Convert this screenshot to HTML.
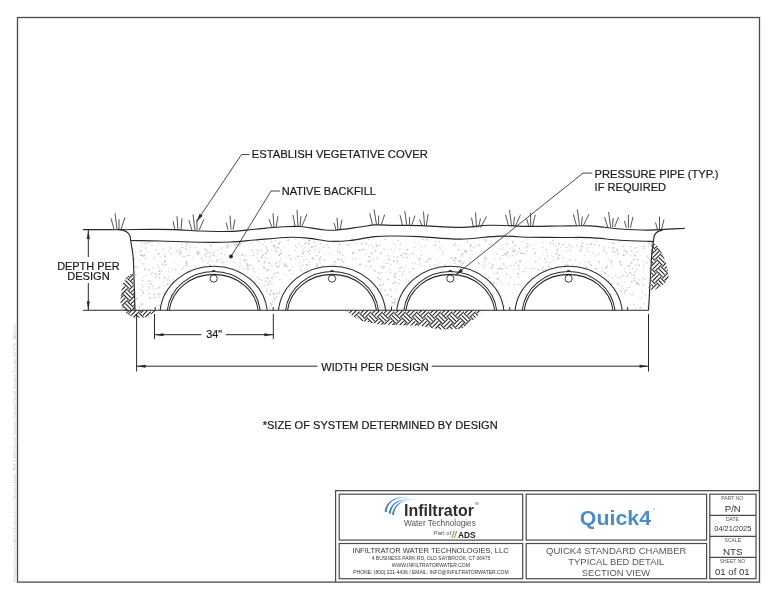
<!DOCTYPE html>
<html><head><meta charset="utf-8"><style>
html,body{margin:0;padding:0;background:#fff;}
svg{display:block;will-change:transform;}
text{font-family:"Liberation Sans",sans-serif;}
</style></head><body>
<svg width="777" height="600" viewBox="0 0 777 600">
<defs>
<clipPath id="hcl"><path d="M132.8 272.3 L127 277 L123.5 282.5 L121 293 L120.5 303.2 L122.8 309 L127 313.5 L133.3 317.4 L145 317.4 L150 315 L155.8 311.4 L155.8 310.3 L135 310.3 Z M345.3 310.3 L352 315.5 L360 320.4 L380 324.6 L420 325.8 L440 329.6 L462 328.8 L472 321 L483.3 310.3 Z M653.2 242.5 L658.7 247.3 L663.3 256 L666 263.3 L668.9 275.3 L667.3 281 L662 285.5 L656.7 288.7 L651.3 291.6 L651.5 243 Z"/></clipPath>
</defs>
<rect x="17.5" y="17.5" width="742" height="564.6" fill="none" stroke="#4a4a4a" stroke-width="1.3"/>
<text transform="translate(16.2,582) rotate(-90)" font-size="3.4" fill="#c2c2c2" textLength="258" lengthAdjust="spacingAndGlyphs">U:\Market Development Archive\Drawings for the Infiltrator website - PDF &amp; DWG\Quick4 Standard Chambers\Quick4 Standard Chamber Vol. STD - BED.dwg</text>
<!-- hatch regions -->
<path d="M111.62 260.92L105.82 266.72M113.79 263.10L107.99 268.90M115.97 265.27L110.17 271.07M123.21 260.92L117.42 266.72M125.39 263.10L119.59 268.90M127.56 265.27L121.76 271.07M115.97 266.72L121.76 272.52M113.79 268.90L119.59 274.69M111.62 271.07L117.42 276.87M111.62 272.52L105.82 278.32M113.79 274.69L107.99 280.49M115.97 276.87L110.17 282.67M134.81 260.92L129.01 266.72M136.98 263.10L131.19 268.90M139.16 265.27L133.36 271.07M127.56 266.72L133.36 272.52M125.39 268.90L131.19 274.69M123.21 271.07L129.01 276.87M123.21 272.52L117.42 278.32M125.39 274.69L119.59 280.49M127.56 276.87L121.76 282.67M115.97 278.32L121.76 284.12M113.79 280.49L119.59 286.29M111.62 282.67L117.42 288.46M111.62 284.12L105.82 289.91M113.79 286.29L107.99 292.09M115.97 288.46L110.17 294.26M139.16 266.72L144.96 272.52M136.98 268.90L142.78 274.69M134.81 271.07L140.61 276.87M134.81 272.52L129.01 278.32M136.98 274.69L131.19 280.49M139.16 276.87L133.36 282.67M127.56 278.32L133.36 284.12M125.39 280.49L131.19 286.29M123.21 282.67L129.01 288.46M123.21 284.12L117.42 289.91M125.39 286.29L119.59 292.09M127.56 288.46L121.76 294.26M115.97 289.91L121.76 295.71M113.79 292.09L119.59 297.89M111.62 294.26L117.42 300.06M111.62 295.71L105.82 301.51M113.79 297.89L107.99 303.68M115.97 300.06L110.17 305.86M139.16 278.32L144.96 284.12M136.98 280.49L142.78 286.29M134.81 282.67L140.61 288.46M134.81 284.12L129.01 289.91M136.98 286.29L131.19 292.09M139.16 288.46L133.36 294.26M127.56 289.91L133.36 295.71M125.39 292.09L131.19 297.89M123.21 294.26L129.01 300.06M123.21 295.71L117.42 301.51M125.39 297.89L119.59 303.68M127.56 300.06L121.76 305.86M115.97 301.51L121.76 307.31M113.79 303.68L119.59 309.48M111.62 305.86L117.42 311.66M111.62 307.31L105.82 313.11M113.79 309.48L107.99 315.28M115.97 311.66L110.17 317.46M139.16 289.91L144.96 295.71M136.98 292.09L142.78 297.89M134.81 294.26L140.61 300.06M134.81 295.71L129.01 301.51M136.98 297.89L131.19 303.68M139.16 300.06L133.36 305.86M127.56 301.51L133.36 307.31M125.39 303.68L131.19 309.48M123.21 305.86L129.01 311.66M123.21 307.31L117.42 313.11M125.39 309.48L119.59 315.28M127.56 311.66L121.76 317.46M115.97 313.11L121.76 318.91M113.79 315.28L119.59 321.08M111.62 317.46L117.42 323.25M111.62 318.91L105.82 324.70M113.79 321.08L107.99 326.88M115.97 323.25L110.17 329.05M139.16 301.51L144.96 307.31M136.98 303.68L142.78 309.48M134.81 305.86L140.61 311.66M134.81 307.31L129.01 313.11M136.98 309.48L131.19 315.28M139.16 311.66L133.36 317.46M127.56 313.11L133.36 318.91M125.39 315.28L131.19 321.08M123.21 317.46L129.01 323.25M123.21 318.91L117.42 324.70M125.39 321.08L119.59 326.88M127.56 323.25L121.76 329.05M146.41 307.31L140.61 313.11M148.58 309.48L142.78 315.28M150.76 311.66L144.96 317.46M139.16 313.11L144.96 318.91M136.98 315.28L142.78 321.08M134.81 317.46L140.61 323.25M134.81 318.91L129.01 324.70M136.98 321.08L131.19 326.88M139.16 323.25L133.36 329.05M158.00 307.31L152.20 313.11M160.18 309.48L154.38 315.28M162.35 311.66L156.55 317.46M150.76 313.11L156.55 318.91M148.58 315.28L154.38 321.08M146.41 317.46L152.20 323.25M146.41 318.91L140.61 324.70M148.58 321.08L142.78 326.88M150.76 323.25L144.96 329.05M158.00 318.91L152.20 324.70M160.18 321.08L154.38 326.88M162.35 323.25L156.55 329.05M343.55 307.31L337.75 313.11M345.72 309.48L339.92 315.28M347.90 311.66L342.10 317.46M355.14 307.31L349.35 313.11M357.32 309.48L351.52 315.28M359.49 311.66L353.69 317.46M347.90 313.11L353.69 318.91M345.72 315.28L351.52 321.08M343.55 317.46L349.35 323.25M343.55 318.91L337.75 324.70M345.72 321.08L339.92 326.88M347.90 323.25L342.10 329.05M366.74 307.31L360.94 313.11M368.92 309.48L363.12 315.28M371.09 311.66L365.29 317.46M359.49 313.11L365.29 318.91M357.32 315.28L363.12 321.08M355.14 317.46L360.94 323.25M355.14 318.91L349.35 324.70M357.32 321.08L351.52 326.88M359.49 323.25L353.69 329.05M347.90 324.70L353.69 330.50M345.72 326.88L351.52 332.68M343.55 329.05L349.35 334.85M378.34 307.31L372.54 313.11M380.51 309.48L374.71 315.28M382.69 311.66L376.89 317.46M371.09 313.11L376.89 318.91M368.92 315.28L374.71 321.08M366.74 317.46L372.54 323.25M366.74 318.91L360.94 324.70M368.92 321.08L363.12 326.88M371.09 323.25L365.29 329.05M359.49 324.70L365.29 330.50M357.32 326.88L363.12 332.68M355.14 329.05L360.94 334.85M389.93 307.31L384.14 313.11M392.11 309.48L386.31 315.28M394.28 311.66L388.48 317.46M382.69 313.11L388.48 318.91M380.51 315.28L386.31 321.08M378.34 317.46L384.14 323.25M378.34 318.91L372.54 324.70M380.51 321.08L374.71 326.88M382.69 323.25L376.89 329.05M371.09 324.70L376.89 330.50M368.92 326.88L374.71 332.68M366.74 329.05L372.54 334.85M401.53 307.31L395.73 313.11M403.70 309.48L397.91 315.28M405.88 311.66L400.08 317.46M394.28 313.11L400.08 318.91M392.11 315.28L397.91 321.08M389.93 317.46L395.73 323.25M389.93 318.91L384.14 324.70M392.11 321.08L386.31 326.88M394.28 323.25L388.48 329.05M382.69 324.70L388.48 330.50M380.51 326.88L386.31 332.68M378.34 329.05L384.14 334.85M413.13 307.31L407.33 313.11M415.30 309.48L409.50 315.28M417.48 311.66L411.68 317.46M405.88 313.11L411.68 318.91M403.70 315.28L409.50 321.08M401.53 317.46L407.33 323.25M401.53 318.91L395.73 324.70M403.70 321.08L397.91 326.88M405.88 323.25L400.08 329.05M394.28 324.70L400.08 330.50M392.11 326.88L397.91 332.68M389.93 329.05L395.73 334.85M424.72 307.31L418.93 313.11M426.90 309.48L421.10 315.28M429.07 311.66L423.27 317.46M417.48 313.11L423.27 318.91M415.30 315.28L421.10 321.08M413.13 317.46L418.93 323.25M413.13 318.91L407.33 324.70M415.30 321.08L409.50 326.88M417.48 323.25L411.68 329.05M405.88 324.70L411.68 330.50M403.70 326.88L409.50 332.68M401.53 329.05L407.33 334.85M436.32 307.31L430.52 313.11M438.49 309.48L432.70 315.28M440.67 311.66L434.87 317.46M429.07 313.11L434.87 318.91M426.90 315.28L432.70 321.08M424.72 317.46L430.52 323.25M424.72 318.91L418.93 324.70M426.90 321.08L421.10 326.88M429.07 323.25L423.27 329.05M417.48 324.70L423.27 330.50M415.30 326.88L421.10 332.68M413.13 329.05L418.93 334.85M447.92 307.31L442.12 313.11M450.09 309.48L444.29 315.28M452.27 311.66L446.47 317.46M440.67 313.11L446.47 318.91M438.49 315.28L444.29 321.08M436.32 317.46L442.12 323.25M436.32 318.91L430.52 324.70M438.49 321.08L432.70 326.88M440.67 323.25L434.87 329.05M429.07 324.70L434.87 330.50M426.90 326.88L432.70 332.68M424.72 329.05L430.52 334.85M459.51 307.31L453.72 313.11M461.69 309.48L455.89 315.28M463.86 311.66L458.06 317.46M452.27 313.11L458.06 318.91M450.09 315.28L455.89 321.08M447.92 317.46L453.72 323.25M447.92 318.91L442.12 324.70M450.09 321.08L444.29 326.88M452.27 323.25L446.47 329.05M440.67 324.70L446.47 330.50M438.49 326.88L444.29 332.68M436.32 329.05L442.12 334.85M471.11 307.31L465.31 313.11M473.28 309.48L467.49 315.28M475.46 311.66L469.66 317.46M463.86 313.11L469.66 318.91M461.69 315.28L467.49 321.08M459.51 317.46L465.31 323.25M459.51 318.91L453.72 324.70M461.69 321.08L455.89 326.88M463.86 323.25L458.06 329.05M452.27 324.70L458.06 330.50M450.09 326.88L455.89 332.68M447.92 329.05L453.72 334.85M482.71 307.31L476.91 313.11M484.88 309.48L479.08 315.28M487.06 311.66L481.26 317.46M475.46 313.11L481.26 318.91M473.28 315.28L479.08 321.08M471.11 317.46L476.91 323.25M471.11 318.91L465.31 324.70M473.28 321.08L467.49 326.88M475.46 323.25L469.66 329.05M463.86 324.70L469.66 330.50M461.69 326.88L467.49 332.68M459.51 329.05L465.31 334.85M487.06 313.11L492.85 318.91M484.88 315.28L490.68 321.08M482.71 317.46L488.50 323.25M482.71 318.91L476.91 324.70M484.88 321.08L479.08 326.88M487.06 323.25L481.26 329.05M475.46 324.70L481.26 330.50M473.28 326.88L479.08 332.68M471.11 329.05L476.91 334.85M487.06 324.70L492.85 330.50M484.88 326.88L490.68 332.68M482.71 329.05L488.50 334.85M656.65 237.73L650.86 243.53M658.83 239.90L653.03 245.70M661.00 242.08L655.21 247.88M649.41 243.53L655.21 249.33M647.23 245.70L653.03 251.50M645.06 247.88L650.86 253.67M668.25 237.73L662.45 243.53M670.43 239.90L664.63 245.70M672.60 242.08L666.80 247.88M661.00 243.53L666.80 249.33M658.83 245.70L664.63 251.50M656.65 247.88L662.45 253.67M656.65 249.33L650.86 255.12M658.83 251.50L653.03 257.30M661.00 253.67L655.21 259.47M649.41 255.12L655.21 260.92M647.23 257.30L653.03 263.10M645.06 259.47L650.86 265.27M672.60 243.53L678.40 249.33M670.43 245.70L676.22 251.50M668.25 247.88L674.05 253.67M668.25 249.33L662.45 255.12M670.43 251.50L664.63 257.30M672.60 253.67L666.80 259.47M661.00 255.12L666.80 260.92M658.83 257.30L664.63 263.10M656.65 259.47L662.45 265.27M656.65 260.92L650.86 266.72M658.83 263.10L653.03 268.90M661.00 265.27L655.21 271.07M649.41 266.72L655.21 272.52M647.23 268.90L653.03 274.69M645.06 271.07L650.86 276.87M672.60 255.12L678.40 260.92M670.43 257.30L676.22 263.10M668.25 259.47L674.05 265.27M668.25 260.92L662.45 266.72M670.43 263.10L664.63 268.90M672.60 265.27L666.80 271.07M661.00 266.72L666.80 272.52M658.83 268.90L664.63 274.69M656.65 271.07L662.45 276.87M656.65 272.52L650.86 278.32M658.83 274.69L653.03 280.49M661.00 276.87L655.21 282.67M649.41 278.32L655.21 284.12M647.23 280.49L653.03 286.29M645.06 282.67L650.86 288.46M672.60 266.72L678.40 272.52M670.43 268.90L676.22 274.69M668.25 271.07L674.05 276.87M668.25 272.52L662.45 278.32M670.43 274.69L664.63 280.49M672.60 276.87L666.80 282.67M661.00 278.32L666.80 284.12M658.83 280.49L664.63 286.29M656.65 282.67L662.45 288.46M656.65 284.12L650.86 289.91M658.83 286.29L653.03 292.09M661.00 288.46L655.21 294.26M649.41 289.91L655.21 295.71M647.23 292.09L653.03 297.89M645.06 294.26L650.86 300.06M672.60 278.32L678.40 284.12M670.43 280.49L676.22 286.29M668.25 282.67L674.05 288.46M668.25 284.12L662.45 289.91M670.43 286.29L664.63 292.09M672.60 288.46L666.80 294.26M661.00 289.91L666.80 295.71M658.83 292.09L664.63 297.89M656.65 294.26L662.45 300.06M672.60 289.91L678.40 295.71M670.43 292.09L676.22 297.89M668.25 294.26L674.05 300.06" fill="none" stroke="#262626" stroke-width="1.1" clip-path="url(#hcl)"/>
<!-- stipple -->
<filter id="bl" x="-5%" y="-5%" width="110%" height="110%"><feGaussianBlur stdDeviation="0.45"/></filter><g filter="url(#bl)"><path d="M301.4 246.3h0.9v0.9h-0.9z M411.7 262.4h1.2v1.2h-1.2z M152.5 267.5h0.9v0.9h-0.9z M197.4 251.7h1.6v1.6h-1.6z M283.6 245.8h1.0v1.0h-1.0z M557.4 248.6h1.3v1.3h-1.3z M355.3 258.6h1.2v1.2h-1.2z M496.5 253.3h1.2v1.2h-1.2z M624.2 270.6h0.8v0.8h-0.8z M144.7 269.6h0.9v0.9h-0.9z M163.7 292.6h1.0v1.0h-1.0z M174.9 268.7h1.5v1.5h-1.5z M277.8 266.1h1.5v1.5h-1.5z M631.0 246.3h1.0v1.0h-1.0z M254.3 271.4h1.0v1.0h-1.0z M135.1 266.4h1.3v1.3h-1.3z M628.6 286.8h1.3v1.3h-1.3z M547.9 264.4h0.9v0.9h-0.9z M168.0 250.7h1.1v1.1h-1.1z M210.2 253.9h1.1v1.1h-1.1z M649.4 269.9h0.9v0.9h-0.9z M186.1 260.7h1.5v1.5h-1.5z M627.5 274.6h1.2v1.2h-1.2z M268.8 262.5h1.4v1.4h-1.4z M517.7 252.0h1.1v1.1h-1.1z M278.3 254.4h1.6v1.6h-1.6z M646.8 306.6h1.0v1.0h-1.0z M251.0 249.8h1.3v1.3h-1.3z M523.1 270.9h1.4v1.4h-1.4z M638.3 264.7h1.6v1.6h-1.6z M509.9 247.8h0.9v0.9h-0.9z M642.8 284.3h1.2v1.2h-1.2z M637.9 283.7h1.5v1.5h-1.5z M562.6 250.8h1.0v1.0h-1.0z M258.1 279.0h1.1v1.1h-1.1z M393.9 274.9h0.8v0.8h-0.8z M361.9 248.7h1.4v1.4h-1.4z M510.1 276.7h1.2v1.2h-1.2z M395.9 273.4h1.2v1.2h-1.2z M622.9 254.5h1.6v1.6h-1.6z M569.8 245.3h1.2v1.2h-1.2z M170.7 253.0h1.3v1.3h-1.3z M628.3 264.9h1.6v1.6h-1.6z M565.9 247.1h1.2v1.2h-1.2z M309.3 249.7h1.4v1.4h-1.4z M143.1 276.6h0.8v0.8h-0.8z M187.5 254.9h1.4v1.4h-1.4z M273.6 244.7h1.5v1.5h-1.5z M558.9 254.4h1.5v1.5h-1.5z M490.9 266.9h1.6v1.6h-1.6z M369.0 260.4h1.5v1.5h-1.5z M272.3 244.7h1.0v1.0h-1.0z M189.9 247.1h1.0v1.0h-1.0z M225.5 261.0h1.0v1.0h-1.0z M141.0 290.0h1.0v1.0h-1.0z M567.0 264.5h1.4v1.4h-1.4z M343.4 261.1h0.9v0.9h-0.9z M265.9 247.2h1.5v1.5h-1.5z M279.6 253.2h1.2v1.2h-1.2z M635.1 258.2h0.8v0.8h-0.8z M394.4 250.1h0.8v0.8h-0.8z M270.4 241.7h0.8v0.8h-0.8z M144.7 257.8h1.3v1.3h-1.3z M590.1 264.2h1.6v1.6h-1.6z M555.4 245.4h1.2v1.2h-1.2z M493.5 252.2h0.9v0.9h-0.9z M394.5 275.1h0.9v0.9h-0.9z M516.1 253.9h1.0v1.0h-1.0z M512.3 250.4h1.6v1.6h-1.6z M389.9 263.7h1.3v1.3h-1.3z M467.2 240.8h1.0v1.0h-1.0z M519.5 257.8h0.8v0.8h-0.8z M164.5 255.2h1.4v1.4h-1.4z M484.4 256.8h1.2v1.2h-1.2z M636.4 268.7h1.0v1.0h-1.0z M624.7 250.8h0.9v0.9h-0.9z M397.5 301.5h1.0v1.0h-1.0z M599.8 271.5h0.8v0.8h-0.8z M388.7 268.8h0.9v0.9h-0.9z M283.7 262.9h1.6v1.6h-1.6z M439.4 262.1h1.0v1.0h-1.0z M262.6 254.9h1.0v1.0h-1.0z M622.2 276.2h0.8v0.8h-0.8z M158.5 304.5h1.2v1.2h-1.2z M311.7 257.3h1.6v1.6h-1.6z M268.3 284.2h1.2v1.2h-1.2z M338.1 247.5h1.0v1.0h-1.0z M604.1 272.3h1.5v1.5h-1.5z M205.6 249.4h1.1v1.1h-1.1z M180.4 252.9h1.3v1.3h-1.3z M347.6 266.0h1.1v1.1h-1.1z M308.9 239.7h1.6v1.6h-1.6z M245.3 255.3h1.1v1.1h-1.1z M379.1 279.0h1.1v1.1h-1.1z M262.2 243.2h1.2v1.2h-1.2z M153.6 293.7h1.5v1.5h-1.5z M468.7 257.8h1.0v1.0h-1.0z M405.7 278.7h1.0v1.0h-1.0z M380.2 252.6h1.6v1.6h-1.6z M499.4 258.1h1.2v1.2h-1.2z M483.7 266.5h1.3v1.3h-1.3z M614.1 252.0h1.1v1.1h-1.1z M517.3 272.9h1.6v1.6h-1.6z M390.8 249.0h1.1v1.1h-1.1z M209.1 264.5h1.6v1.6h-1.6z M478.5 263.4h1.1v1.1h-1.1z M158.6 270.5h1.5v1.5h-1.5z M631.0 281.3h1.4v1.4h-1.4z M297.6 255.7h1.4v1.4h-1.4z M263.5 267.2h1.5v1.5h-1.5z M524.5 253.5h0.8v0.8h-0.8z M270.7 241.3h1.2v1.2h-1.2z M502.1 268.5h1.1v1.1h-1.1z M236.6 253.6h0.9v0.9h-0.9z M648.3 242.7h1.5v1.5h-1.5z M154.0 257.0h1.0v1.0h-1.0z M246.2 262.7h1.0v1.0h-1.0z M265.6 280.0h1.0v1.0h-1.0z M138.9 259.5h0.9v0.9h-0.9z M185.7 264.6h1.3v1.3h-1.3z M180.4 247.3h1.1v1.1h-1.1z M372.7 247.2h1.2v1.2h-1.2z M208.9 256.2h1.5v1.5h-1.5z M246.4 265.0h1.1v1.1h-1.1z M197.0 253.5h1.5v1.5h-1.5z M292.2 266.5h1.1v1.1h-1.1z M475.6 268.5h0.8v0.8h-0.8z M538.6 269.4h1.2v1.2h-1.2z M188.7 244.6h0.9v0.9h-0.9z M362.8 273.3h1.3v1.3h-1.3z M537.4 273.4h1.2v1.2h-1.2z M276.0 296.2h1.2v1.2h-1.2z M611.4 250.6h1.2v1.2h-1.2z M530.6 268.2h1.4v1.4h-1.4z M158.1 296.5h1.3v1.3h-1.3z M644.7 278.9h1.1v1.1h-1.1z M598.7 244.9h1.3v1.3h-1.3z M317.6 243.0h1.0v1.0h-1.0z M342.0 254.8h1.3v1.3h-1.3z M425.4 261.3h1.2v1.2h-1.2z M620.3 290.0h1.5v1.5h-1.5z M155.9 274.9h1.0v1.0h-1.0z M163.4 293.4h1.2v1.2h-1.2z M622.3 245.7h1.3v1.3h-1.3z M136.3 298.3h1.2v1.2h-1.2z M518.7 268.9h0.9v0.9h-0.9z M503.1 254.9h1.1v1.1h-1.1z M140.9 254.5h1.4v1.4h-1.4z M624.2 291.0h1.5v1.5h-1.5z M429.6 258.1h1.3v1.3h-1.3z M312.3 245.6h0.8v0.8h-0.8z M493.2 282.5h1.4v1.4h-1.4z M167.2 279.3h1.5v1.5h-1.5z M188.7 250.4h0.8v0.8h-0.8z M461.4 256.6h0.9v0.9h-0.9z M526.8 250.4h1.1v1.1h-1.1z M143.9 254.3h1.4v1.4h-1.4z M535.0 261.0h1.2v1.2h-1.2z M268.5 305.8h1.0v1.0h-1.0z M496.7 272.4h1.3v1.3h-1.3z M459.5 261.7h1.1v1.1h-1.1z M269.9 302.6h1.1v1.1h-1.1z M592.7 252.5h1.2v1.2h-1.2z M469.1 261.1h0.9v0.9h-0.9z M518.8 247.7h1.4v1.4h-1.4z M434.2 244.5h1.5v1.5h-1.5z M256.7 249.4h1.4v1.4h-1.4z M571.7 246.6h1.0v1.0h-1.0z M216.7 259.6h1.6v1.6h-1.6z M644.6 294.6h1.1v1.1h-1.1z M188.6 250.5h0.8v0.8h-0.8z M493.6 272.5h1.2v1.2h-1.2z M605.2 267.3h1.4v1.4h-1.4z M352.0 252.1h1.5v1.5h-1.5z M263.0 266.8h1.3v1.3h-1.3z M616.7 248.7h1.4v1.4h-1.4z M625.9 250.8h1.1v1.1h-1.1z M275.7 265.0h1.1v1.1h-1.1z M316.1 254.9h1.4v1.4h-1.4z M621.8 274.5h1.4v1.4h-1.4z M336.8 250.9h1.4v1.4h-1.4z M377.0 277.2h1.6v1.6h-1.6z M376.4 257.1h0.9v0.9h-0.9z M264.8 267.0h0.8v0.8h-0.8z M508.3 256.1h1.0v1.0h-1.0z M382.4 267.1h1.3v1.3h-1.3z M139.0 306.4h1.0v1.0h-1.0z M185.8 245.7h1.4v1.4h-1.4z M569.2 249.8h1.2v1.2h-1.2z M254.8 245.5h0.8v0.8h-0.8z M375.9 245.8h1.2v1.2h-1.2z M136.4 298.1h1.3v1.3h-1.3z M147.8 280.7h1.5v1.5h-1.5z M242.6 267.6h1.2v1.2h-1.2z M305.1 258.8h1.3v1.3h-1.3z M185.7 248.6h1.4v1.4h-1.4z M267.2 257.7h1.1v1.1h-1.1z M380.2 265.9h1.3v1.3h-1.3z M243.4 246.4h0.8v0.8h-0.8z M507.1 253.2h0.9v0.9h-0.9z M159.1 293.1h1.5v1.5h-1.5z M512.5 241.3h1.4v1.4h-1.4z M624.4 293.8h1.0v1.0h-1.0z M641.3 297.3h1.0v1.0h-1.0z M552.9 256.2h1.0v1.0h-1.0z M313.4 241.4h1.4v1.4h-1.4z M617.5 252.6h1.3v1.3h-1.3z M375.0 250.5h1.4v1.4h-1.4z M544.7 269.5h1.4v1.4h-1.4z M534.5 252.5h1.5v1.5h-1.5z M380.8 279.2h1.0v1.0h-1.0z M542.4 246.7h1.1v1.1h-1.1z M269.0 293.4h1.6v1.6h-1.6z M634.0 254.0h1.0v1.0h-1.0z M444.0 264.8h1.6v1.6h-1.6z M266.7 277.3h1.6v1.6h-1.6z M481.3 264.5h0.9v0.9h-0.9z M635.2 309.4h0.8v0.8h-0.8z M157.5 294.0h1.3v1.3h-1.3z M621.5 285.8h1.3v1.3h-1.3z M527.1 242.9h1.0v1.0h-1.0z M220.7 252.9h1.3v1.3h-1.3z M139.6 288.8h0.8v0.8h-0.8z M207.2 251.6h1.4v1.4h-1.4z M480.5 250.8h1.0v1.0h-1.0z M267.1 250.1h1.6v1.6h-1.6z M141.3 295.5h0.9v0.9h-0.9z M406.8 248.9h1.5v1.5h-1.5z M275.4 250.5h1.4v1.4h-1.4z M514.0 265.6h0.8v0.8h-0.8z M141.0 303.3h1.5v1.5h-1.5z M135.4 274.0h1.2v1.2h-1.2z M629.1 272.1h1.2v1.2h-1.2z M636.1 251.8h0.9v0.9h-0.9z M148.6 242.2h1.0v1.0h-1.0z M142.2 280.0h1.2v1.2h-1.2z M393.4 256.0h1.1v1.1h-1.1z M580.8 246.0h1.4v1.4h-1.4z M620.5 264.2h1.5v1.5h-1.5z M258.0 260.1h1.6v1.6h-1.6z M169.0 267.5h0.8v0.8h-0.8z M150.9 283.1h1.3v1.3h-1.3z M469.7 244.0h1.6v1.6h-1.6z M400.2 255.1h1.2v1.2h-1.2z M210.2 244.3h1.0v1.0h-1.0z M344.4 256.6h0.9v0.9h-0.9z M471.2 250.1h1.2v1.2h-1.2z M376.9 258.3h1.0v1.0h-1.0z M399.5 263.7h0.8v0.8h-0.8z M257.0 276.7h1.0v1.0h-1.0z M165.2 264.1h1.4v1.4h-1.4z M308.2 261.4h1.3v1.3h-1.3z M402.2 290.4h1.4v1.4h-1.4z M135.2 292.4h1.2v1.2h-1.2z M633.6 277.9h1.4v1.4h-1.4z M285.3 264.3h1.1v1.1h-1.1z M363.9 248.8h0.9v0.9h-0.9z M402.1 273.8h1.1v1.1h-1.1z M484.8 274.4h1.1v1.1h-1.1z M634.5 271.5h1.3v1.3h-1.3z M647.9 301.6h0.9v0.9h-0.9z M283.8 273.4h1.0v1.0h-1.0z M420.7 255.0h1.2v1.2h-1.2z M346.8 244.1h1.4v1.4h-1.4z M552.4 239.7h1.4v1.4h-1.4z M317.0 247.7h0.9v0.9h-0.9z M632.0 268.0h1.0v1.0h-1.0z M557.3 257.8h1.6v1.6h-1.6z M390.7 306.2h1.1v1.1h-1.1z M506.6 251.6h1.5v1.5h-1.5z M384.9 294.5h0.9v0.9h-0.9z M333.5 265.2h0.9v0.9h-0.9z M562.4 261.3h1.0v1.0h-1.0z M280.5 252.8h1.3v1.3h-1.3z M310.5 246.7h0.9v0.9h-0.9z M273.2 297.6h1.2v1.2h-1.2z M215.8 261.5h1.1v1.1h-1.1z M368.4 244.8h1.0v1.0h-1.0z M324.4 253.5h1.0v1.0h-1.0z M586.6 244.2h1.2v1.2h-1.2z M273.6 292.9h1.3v1.3h-1.3z M428.2 258.3h0.9v0.9h-0.9z M287.4 239.9h1.0v1.0h-1.0z M580.9 244.9h0.8v0.8h-0.8z M315.7 265.9h1.4v1.4h-1.4z M217.2 249.9h1.1v1.1h-1.1z M153.4 258.3h0.9v0.9h-0.9z M505.6 254.1h1.3v1.3h-1.3z M157.6 253.3h1.4v1.4h-1.4z M522.8 241.5h1.1v1.1h-1.1z M368.4 239.1h1.1v1.1h-1.1z M637.1 282.8h1.0v1.0h-1.0z M163.9 261.8h1.0v1.0h-1.0z M294.5 245.2h1.3v1.3h-1.3z M256.7 253.1h1.2v1.2h-1.2z M619.6 261.4h1.5v1.5h-1.5z M192.5 256.7h1.0v1.0h-1.0z M164.4 256.1h1.4v1.4h-1.4z M366.0 243.5h1.2v1.2h-1.2z M321.7 247.6h0.8v0.8h-0.8z M642.7 277.3h1.2v1.2h-1.2z M358.8 249.2h0.8v0.8h-0.8z M611.2 283.3h1.5v1.5h-1.5z M472.4 253.9h0.9v0.9h-0.9z M390.1 272.5h1.0v1.0h-1.0z M435.2 241.0h0.9v0.9h-0.9z M361.5 249.3h0.8v0.8h-0.8z M542.2 266.9h1.3v1.3h-1.3z M400.6 266.6h1.2v1.2h-1.2z M603.1 247.3h1.2v1.2h-1.2z M426.0 261.1h0.9v0.9h-0.9z M639.7 307.1h1.4v1.4h-1.4z M164.2 285.7h1.0v1.0h-1.0z M383.0 283.6h1.1v1.1h-1.1z M365.6 241.4h1.1v1.1h-1.1z M435.0 266.2h1.3v1.3h-1.3z M339.1 243.6h1.5v1.5h-1.5z M409.0 253.9h1.2v1.2h-1.2z M250.8 278.0h1.2v1.2h-1.2z M439.0 241.0h0.9v0.9h-0.9z M564.7 264.4h1.6v1.6h-1.6z M162.9 252.8h0.8v0.8h-0.8z M442.0 251.0h1.4v1.4h-1.4z M585.8 247.6h1.1v1.1h-1.1z M562.3 244.2h1.4v1.4h-1.4z M626.0 289.1h1.3v1.3h-1.3z M283.8 286.5h0.9v0.9h-0.9z M311.0 246.3h1.5v1.5h-1.5z M486.3 264.4h0.9v0.9h-0.9z M221.3 262.1h1.3v1.3h-1.3z M334.7 261.5h1.3v1.3h-1.3z M156.6 245.9h1.0v1.0h-1.0z M275.1 272.5h1.3v1.3h-1.3z M463.3 261.3h1.1v1.1h-1.1z M164.4 260.3h1.6v1.6h-1.6z M383.4 262.5h1.0v1.0h-1.0z M314.6 245.2h1.5v1.5h-1.5z M368.6 268.4h1.0v1.0h-1.0z M289.8 258.1h1.2v1.2h-1.2z M145.0 247.3h1.4v1.4h-1.4z M246.5 265.0h1.3v1.3h-1.3z M633.8 280.1h1.4v1.4h-1.4z M588.3 260.6h1.0v1.0h-1.0z M243.4 259.5h1.3v1.3h-1.3z M458.7 260.1h1.3v1.3h-1.3z M266.6 269.8h1.5v1.5h-1.5z M162.1 281.0h1.1v1.1h-1.1z M181.6 246.7h1.4v1.4h-1.4z M368.6 255.9h1.6v1.6h-1.6z M394.0 276.6h1.6v1.6h-1.6z M323.1 246.2h1.4v1.4h-1.4z M612.2 247.2h1.4v1.4h-1.4z M392.4 282.7h1.4v1.4h-1.4z M167.0 283.4h1.5v1.5h-1.5z M164.2 277.3h1.5v1.5h-1.5z M624.4 282.0h1.0v1.0h-1.0z M269.4 267.5h1.0v1.0h-1.0z M183.7 247.7h0.9v0.9h-0.9z M152.7 272.9h1.1v1.1h-1.1z M393.4 243.4h1.2v1.2h-1.2z M610.7 261.2h1.6v1.6h-1.6z M274.9 248.3h0.9v0.9h-0.9z M155.5 273.2h1.2v1.2h-1.2z M415.9 276.2h1.6v1.6h-1.6z M340.6 258.9h1.6v1.6h-1.6z M334.3 263.9h0.9v0.9h-0.9z M265.4 280.8h1.0v1.0h-1.0z M158.7 287.1h1.3v1.3h-1.3z M254.9 282.2h1.1v1.1h-1.1z M503.3 264.5h1.3v1.3h-1.3z M485.1 259.2h1.2v1.2h-1.2z M270.8 303.2h1.4v1.4h-1.4z M404.5 270.7h0.9v0.9h-0.9z M615.2 274.7h1.2v1.2h-1.2z M555.9 252.9h1.5v1.5h-1.5z M558.2 244.2h1.0v1.0h-1.0z M527.6 246.2h1.1v1.1h-1.1z M403.8 252.8h1.1v1.1h-1.1z M163.0 248.4h1.0v1.0h-1.0z M579.6 250.1h1.4v1.4h-1.4z M454.3 262.9h1.2v1.2h-1.2z M286.5 265.6h1.4v1.4h-1.4z M316.2 263.9h1.5v1.5h-1.5z M503.2 262.9h1.1v1.1h-1.1z M596.0 268.0h1.2v1.2h-1.2z M518.0 265.1h1.3v1.3h-1.3z M533.3 243.9h0.9v0.9h-0.9z M558.1 242.6h1.4v1.4h-1.4z M426.5 239.1h1.4v1.4h-1.4z M384.1 239.1h1.1v1.1h-1.1z M208.7 260.1h0.8v0.8h-0.8z M647.1 255.6h1.1v1.1h-1.1z M266.7 250.2h1.2v1.2h-1.2z M387.3 278.8h1.4v1.4h-1.4z M422.2 238.8h1.2v1.2h-1.2z M163.0 267.5h0.8v0.8h-0.8z M581.6 240.4h0.9v0.9h-0.9z M484.0 257.1h1.5v1.5h-1.5z M240.6 242.6h1.4v1.4h-1.4z M627.5 266.1h1.0v1.0h-1.0z M435.7 258.9h0.9v0.9h-0.9z M642.7 264.4h1.1v1.1h-1.1z M466.2 251.8h0.9v0.9h-0.9z M406.7 256.8h1.4v1.4h-1.4z M391.2 304.7h1.2v1.2h-1.2z M414.2 241.6h1.0v1.0h-1.0z M306.2 268.7h1.4v1.4h-1.4z M288.1 240.2h0.9v0.9h-0.9z M150.5 273.5h1.3v1.3h-1.3z M316.5 263.1h0.9v0.9h-0.9z M590.1 243.8h1.2v1.2h-1.2z M396.5 262.5h1.1v1.1h-1.1z M238.8 244.5h1.5v1.5h-1.5z M393.9 301.8h1.6v1.6h-1.6z M387.0 294.3h1.4v1.4h-1.4z M212.9 254.8h1.1v1.1h-1.1z M138.6 305.5h1.1v1.1h-1.1z M178.8 253.4h1.3v1.3h-1.3z M211.6 260.8h1.0v1.0h-1.0z M463.9 249.9h1.5v1.5h-1.5z M542.0 241.9h1.1v1.1h-1.1z M371.1 252.7h1.5v1.5h-1.5z M622.7 296.9h0.9v0.9h-0.9z M135.3 271.7h0.9v0.9h-0.9z M555.4 266.4h1.2v1.2h-1.2z M307.4 251.0h1.5v1.5h-1.5z M455.0 256.9h1.0v1.0h-1.0z M497.6 268.2h1.4v1.4h-1.4z M154.6 296.7h1.0v1.0h-1.0z M631.0 262.2h1.5v1.5h-1.5z M263.4 261.4h1.2v1.2h-1.2z M172.5 281.8h1.6v1.6h-1.6z M461.6 263.2h1.3v1.3h-1.3z M604.7 272.4h1.6v1.6h-1.6z M488.4 276.8h1.4v1.4h-1.4z M157.3 264.4h1.3v1.3h-1.3z M279.1 292.2h1.2v1.2h-1.2z M277.3 247.1h1.5v1.5h-1.5z M545.7 261.0h1.2v1.2h-1.2z M589.2 247.2h0.9v0.9h-0.9z M295.2 239.0h1.1v1.1h-1.1z M635.8 307.2h1.0v1.0h-1.0z M623.7 249.8h1.2v1.2h-1.2z M189.4 254.5h1.1v1.1h-1.1z M634.1 255.0h1.5v1.5h-1.5z M553.0 243.3h1.3v1.3h-1.3z M636.0 282.5h1.4v1.4h-1.4z M519.1 260.6h1.4v1.4h-1.4z M202.5 260.4h1.1v1.1h-1.1z M394.1 298.9h1.3v1.3h-1.3z M499.0 280.9h0.9v0.9h-0.9z M275.0 251.0h0.9v0.9h-0.9z M550.1 262.0h0.9v0.9h-0.9z M569.1 259.4h1.3v1.3h-1.3z M205.2 255.6h1.2v1.2h-1.2z M153.6 297.1h1.0v1.0h-1.0z M460.3 260.5h1.3v1.3h-1.3z M148.9 293.4h1.2v1.2h-1.2z M437.2 265.0h1.3v1.3h-1.3z M369.4 260.6h1.1v1.1h-1.1z M279.9 249.6h1.2v1.2h-1.2z M361.1 249.8h1.0v1.0h-1.0z M271.1 277.0h1.6v1.6h-1.6z M507.1 239.7h0.8v0.8h-0.8z M460.7 254.8h0.9v0.9h-0.9z M186.1 243.0h1.4v1.4h-1.4z M241.8 253.9h1.5v1.5h-1.5z M642.9 267.8h1.1v1.1h-1.1z M465.5 250.4h1.5v1.5h-1.5z M332.0 242.8h0.9v0.9h-0.9z M237.0 269.2h1.3v1.3h-1.3z M500.6 268.0h1.4v1.4h-1.4z M161.0 270.3h1.3v1.3h-1.3z M504.1 253.0h1.4v1.4h-1.4z M142.5 291.8h1.6v1.6h-1.6z M394.3 281.5h1.4v1.4h-1.4z M416.6 256.8h0.8v0.8h-0.8z M371.2 244.2h1.0v1.0h-1.0z M185.7 262.6h1.4v1.4h-1.4z M641.9 292.7h0.9v0.9h-0.9z M369.9 265.6h1.3v1.3h-1.3z M264.4 257.5h1.1v1.1h-1.1z M275.6 253.7h0.8v0.8h-0.8z M635.1 247.1h1.3v1.3h-1.3z M179.6 250.9h1.5v1.5h-1.5z M140.1 254.5h1.6v1.6h-1.6z M262.2 254.3h1.4v1.4h-1.4z M494.4 257.8h0.9v0.9h-0.9z M140.6 262.1h0.9v0.9h-0.9z M389.7 307.7h1.0v1.0h-1.0z M533.1 248.3h1.0v1.0h-1.0z M149.0 297.2h1.5v1.5h-1.5z M226.9 245.8h1.6v1.6h-1.6z M429.2 251.7h0.8v0.8h-0.8z M263.9 262.5h0.9v0.9h-0.9z M246.9 263.8h1.3v1.3h-1.3z M360.9 243.7h1.4v1.4h-1.4z M181.7 243.8h0.9v0.9h-0.9z M253.0 268.0h0.9v0.9h-0.9z M620.0 276.6h1.0v1.0h-1.0z M405.9 253.0h1.5v1.5h-1.5z M271.0 304.3h1.4v1.4h-1.4z M171.7 269.0h1.0v1.0h-1.0z M477.7 262.1h1.6v1.6h-1.6z M383.4 248.5h1.3v1.3h-1.3z M412.3 252.6h1.3v1.3h-1.3z M175.6 251.3h1.2v1.2h-1.2z M206.1 249.4h1.3v1.3h-1.3z M621.5 265.1h0.8v0.8h-0.8z M626.2 252.5h1.2v1.2h-1.2z M632.8 259.1h1.1v1.1h-1.1z M267.1 269.1h1.4v1.4h-1.4z M204.6 253.0h1.6v1.6h-1.6z M210.6 245.3h1.3v1.3h-1.3z M594.0 239.3h0.9v0.9h-0.9z M608.7 242.8h1.0v1.0h-1.0z M585.6 266.5h1.5v1.5h-1.5z M399.7 243.7h1.3v1.3h-1.3z M265.9 252.7h1.2v1.2h-1.2z M485.2 240.5h1.3v1.3h-1.3z M515.3 262.0h1.4v1.4h-1.4z M199.3 251.7h1.0v1.0h-1.0z M151.5 245.2h1.1v1.1h-1.1z M499.3 267.8h1.2v1.2h-1.2z M142.2 285.7h1.1v1.1h-1.1z M274.7 240.3h0.9v0.9h-0.9z M252.6 254.9h1.6v1.6h-1.6z M299.5 266.3h1.0v1.0h-1.0z M269.7 294.4h1.1v1.1h-1.1z M550.0 242.1h1.0v1.0h-1.0z M204.9 249.5h0.9v0.9h-0.9z M462.7 253.1h1.1v1.1h-1.1z M149.1 289.3h1.0v1.0h-1.0z M239.4 258.3h1.0v1.0h-1.0z M631.5 294.6h1.1v1.1h-1.1z M508.0 239.2h0.9v0.9h-0.9z M158.5 273.5h1.5v1.5h-1.5z M235.8 244.0h1.2v1.2h-1.2z M264.4 285.1h1.1v1.1h-1.1z M454.7 242.9h1.3v1.3h-1.3z M643.2 303.2h1.2v1.2h-1.2z M455.1 257.5h1.4v1.4h-1.4z M533.8 267.8h1.1v1.1h-1.1z M169.7 247.3h1.5v1.5h-1.5z M514.7 244.7h1.6v1.6h-1.6z M309.2 253.6h1.2v1.2h-1.2z M520.3 260.6h1.1v1.1h-1.1z M558.8 254.9h1.1v1.1h-1.1z M316.5 263.4h1.0v1.0h-1.0z M606.0 265.8h1.5v1.5h-1.5z M520.0 285.8h0.8v0.8h-0.8z M244.3 260.5h0.9v0.9h-0.9z M547.2 252.0h0.9v0.9h-0.9z M518.4 249.9h1.1v1.1h-1.1z M506.1 267.2h1.2v1.2h-1.2z M318.4 251.7h1.4v1.4h-1.4z M649.1 267.5h1.4v1.4h-1.4z M616.5 250.1h1.1v1.1h-1.1z M513.7 249.0h1.2v1.2h-1.2z M618.0 277.0h1.3v1.3h-1.3z M550.8 266.8h1.0v1.0h-1.0z M276.5 266.5h1.2v1.2h-1.2z M522.1 252.8h1.2v1.2h-1.2z M603.2 250.1h1.4v1.4h-1.4z M623.9 268.2h0.9v0.9h-0.9z M260.5 249.9h1.1v1.1h-1.1z M454.5 257.7h1.0v1.0h-1.0z M177.2 249.5h1.2v1.2h-1.2z M385.8 305.9h1.0v1.0h-1.0z M440.8 245.8h0.9v0.9h-0.9z M342.8 261.6h1.1v1.1h-1.1z M492.2 264.4h1.5v1.5h-1.5z M611.5 265.1h1.0v1.0h-1.0z M301.1 271.0h1.1v1.1h-1.1z M598.5 261.2h1.5v1.5h-1.5z M306.0 264.0h1.4v1.4h-1.4z M268.5 262.8h1.1v1.1h-1.1z M607.7 275.4h1.1v1.1h-1.1z M560.2 247.0h0.8v0.8h-0.8z M551.9 246.0h0.8v0.8h-0.8z M270.2 290.0h1.5v1.5h-1.5z M358.7 249.5h1.5v1.5h-1.5z M501.3 282.3h0.9v0.9h-0.9z M358.9 264.3h1.0v1.0h-1.0z M500.1 248.1h0.9v0.9h-0.9z M163.6 274.8h0.8v0.8h-0.8z M424.6 245.7h1.1v1.1h-1.1z M548.0 266.1h1.3v1.3h-1.3z M452.9 258.7h1.0v1.0h-1.0z M648.2 286.6h1.4v1.4h-1.4z M269.4 280.8h1.5v1.5h-1.5z M266.4 289.8h0.9v0.9h-0.9z M389.8 289.1h1.3v1.3h-1.3z M378.8 243.9h0.9v0.9h-0.9z M374.6 270.2h1.4v1.4h-1.4z M393.1 260.2h1.5v1.5h-1.5z M520.3 252.4h1.5v1.5h-1.5z M633.2 304.2h1.3v1.3h-1.3z M421.1 265.4h0.9v0.9h-0.9z M377.5 272.0h1.1v1.1h-1.1z M643.5 245.5h1.6v1.6h-1.6z M239.4 244.3h1.3v1.3h-1.3z M420.6 250.4h0.9v0.9h-0.9z M648.9 285.9h0.8v0.8h-0.8z M139.8 250.2h1.5v1.5h-1.5z M272.1 301.0h1.1v1.1h-1.1z M635.5 265.4h0.9v0.9h-0.9z M273.6 246.1h1.3v1.3h-1.3z M472.8 247.1h1.2v1.2h-1.2z M265.6 245.6h0.9v0.9h-0.9z M258.6 241.9h1.1v1.1h-1.1z M394.6 304.3h0.9v0.9h-0.9z M305.5 241.7h1.1v1.1h-1.1z M470.0 246.7h0.8v0.8h-0.8z M396.6 260.2h1.4v1.4h-1.4z M505.7 273.3h1.3v1.3h-1.3z M134.9 251.7h1.0v1.0h-1.0z M649.8 260.1h1.3v1.3h-1.3z M248.7 265.1h1.1v1.1h-1.1z M611.4 242.5h1.2v1.2h-1.2z M390.7 295.7h1.5v1.5h-1.5z M549.5 243.5h0.8v0.8h-0.8z M277.0 308.4h0.8v0.8h-0.8z M505.8 243.6h1.3v1.3h-1.3z M402.7 271.2h1.1v1.1h-1.1z M398.5 279.1h1.0v1.0h-1.0z M394.5 272.8h1.3v1.3h-1.3z M276.4 292.8h1.4v1.4h-1.4z M284.0 265.2h1.5v1.5h-1.5z M383.9 289.8h1.2v1.2h-1.2z M319.1 258.0h1.4v1.4h-1.4z M514.4 250.6h1.4v1.4h-1.4z M633.2 274.4h1.6v1.6h-1.6z M551.3 252.2h0.9v0.9h-0.9z M386.6 262.7h1.2v1.2h-1.2z M442.5 254.1h1.1v1.1h-1.1z M457.8 249.1h1.3v1.3h-1.3z M450.7 257.0h1.5v1.5h-1.5z M605.8 252.5h1.3v1.3h-1.3z M196.6 251.0h1.1v1.1h-1.1z M259.7 279.0h0.8v0.8h-0.8z M273.0 293.2h1.6v1.6h-1.6z M161.3 263.5h1.3v1.3h-1.3z M397.1 256.7h1.2v1.2h-1.2z M643.5 247.7h1.2v1.2h-1.2z M319.0 260.2h1.3v1.3h-1.3z M630.6 262.1h0.9v0.9h-0.9z M365.1 265.4h1.4v1.4h-1.4z M391.5 270.4h0.9v0.9h-0.9z M267.5 283.3h1.3v1.3h-1.3z M296.3 276.3h1.2v1.2h-1.2z M453.6 245.1h1.3v1.3h-1.3z M637.3 296.7h0.9v0.9h-0.9z M308.0 240.0h1.3v1.3h-1.3z M195.8 247.0h1.0v1.0h-1.0z M581.2 245.8h1.2v1.2h-1.2z M541.8 269.2h1.6v1.6h-1.6z M339.0 251.8h1.6v1.6h-1.6z M588.5 261.8h1.1v1.1h-1.1z M513.7 284.3h1.2v1.2h-1.2z M182.1 255.7h1.2v1.2h-1.2z M246.2 267.8h1.4v1.4h-1.4z M265.0 297.3h1.3v1.3h-1.3z M412.6 268.0h1.5v1.5h-1.5z M141.7 304.7h0.8v0.8h-0.8z M532.1 277.7h1.0v1.0h-1.0z M539.2 258.0h1.0v1.0h-1.0z M166.9 283.3h0.9v0.9h-0.9z M585.6 238.8h0.9v0.9h-0.9z M264.4 241.5h1.0v1.0h-1.0z M289.1 269.6h1.4v1.4h-1.4z M508.8 243.6h0.8v0.8h-0.8z M304.2 243.1h1.4v1.4h-1.4z M650.8 250.7h1.4v1.4h-1.4z M337.1 258.4h1.6v1.6h-1.6z M399.3 268.1h1.4v1.4h-1.4z M424.0 269.6h1.0v1.0h-1.0z M201.1 257.5h1.4v1.4h-1.4z M144.4 268.1h1.3v1.3h-1.3z M308.1 244.6h1.0v1.0h-1.0z M544.1 257.9h1.4v1.4h-1.4z M146.1 289.3h0.9v0.9h-0.9z M348.8 244.2h1.0v1.0h-1.0z M636.0 263.7h1.0v1.0h-1.0z M636.8 259.1h1.5v1.5h-1.5z M278.0 243.2h1.2v1.2h-1.2z M587.4 250.2h1.4v1.4h-1.4z M276.6 246.4h1.1v1.1h-1.1z M256.8 277.1h0.8v0.8h-0.8z M290.4 279.0h0.9v0.9h-0.9z M613.5 243.2h1.4v1.4h-1.4z M143.1 263.2h1.2v1.2h-1.2z M141.2 246.3h0.9v0.9h-0.9z M180.1 249.6h0.9v0.9h-0.9z M581.9 242.5h1.4v1.4h-1.4z M277.5 272.3h1.1v1.1h-1.1z M279.5 278.9h1.0v1.0h-1.0z M395.0 289.0h1.1v1.1h-1.1z M224.2 254.4h1.0v1.0h-1.0z M187.3 270.7h1.3v1.3h-1.3z M518.0 283.8h1.3v1.3h-1.3z M542.5 270.6h1.1v1.1h-1.1z M221.6 246.7h1.0v1.0h-1.0z M308.0 242.7h1.4v1.4h-1.4z M290.4 255.1h0.8v0.8h-0.8z M359.5 263.5h1.5v1.5h-1.5z M632.4 252.1h0.8v0.8h-0.8z M271.2 264.9h1.4v1.4h-1.4z M617.3 283.4h1.5v1.5h-1.5z M537.5 268.4h1.4v1.4h-1.4z M298.2 243.2h1.4v1.4h-1.4z M256.7 257.9h1.1v1.1h-1.1z M651.2 250.2h0.8v0.8h-0.8z M332.4 254.6h0.9v0.9h-0.9z M415.0 263.2h1.1v1.1h-1.1z M598.5 253.6h1.1v1.1h-1.1z M453.6 259.9h1.5v1.5h-1.5z M148.1 269.5h1.4v1.4h-1.4z M636.7 281.7h1.3v1.3h-1.3z M408.0 280.4h1.3v1.3h-1.3z M142.7 255.3h1.5v1.5h-1.5z M304.3 246.7h1.0v1.0h-1.0z M497.4 278.5h1.4v1.4h-1.4z" fill="#c2c2c2" stroke="none"/>
<path d="M433.1 264.8l2.2 0.3 M194.4 266.4l1.6 0.8 M153.4 285.1l-0.5 2.2 M497.8 283.5l-1.3 0.8 M484.6 239.0l-1.7 1.4 M147.1 274.6l-1.9 0.8 M304.4 251.7l-2.2 0.1 M382.3 284.0l1.9 0.5 M262.2 255.8l-0.0 1.9 M410.3 270.9l-1.3 1.8 M476.3 245.7l-1.5 0.1 M399.4 239.8l-1.9 1.5 M295.2 257.9l1.1 1.4 M643.9 260.7l-1.2 1.6 M269.9 307.1l-0.2 1.5 M320.6 242.9l-0.4 1.9 M375.5 243.9l1.9 1.4 M311.9 258.7l2.1 0.0 M569.3 244.0l-1.4 1.8 M158.1 242.6l1.4 1.8 M513.8 268.8l-0.7 1.4 M508.3 283.6l0.2 1.8 M289.8 269.6l-1.0 2.0 M253.0 251.6l1.4 1.9 M164.3 264.5l-1.9 0.7 M304.2 248.9l-0.9 0.9 M278.5 261.4l2.2 0.9 M240.8 261.7l-1.5 0.9 M233.4 262.3l1.7 0.2 M266.6 291.0l0.7 1.3 M254.6 270.6l-1.6 0.2 M517.0 296.7l-0.5 1.5 M299.2 262.1l1.4 0.4 M420.3 259.4l-2.2 0.9 M478.5 244.1l1.1 1.5 M302.7 264.7l-0.0 1.5 M638.9 278.7l0.9 2.1 M366.5 254.5l-1.3 0.2 M295.3 250.3l-0.2 1.3 M280.3 258.1l1.0 1.6 M318.7 266.2l-1.6 0.0 M601.8 266.8l0.7 2.2 M235.6 244.5l-1.8 0.1 M248.5 265.3l-1.2 0.7 M154.4 277.2l2.2 0.3 M556.8 249.5l0.1 2.3 M609.3 247.4l-1.2 0.3 M227.7 247.1l-1.2 1.9 M463.9 262.0l-0.3 1.9 M591.9 242.8l-0.7 1.5 M547.8 254.9l-0.4 1.6 M379.9 245.1l1.0 1.0 M396.6 283.1l1.3 0.8 M289.1 238.6l-1.6 1.3 M271.0 283.2l1.8 1.4 M303.8 252.9l-0.8 1.9 M324.4 259.1l-0.0 2.2 M388.2 271.9l1.5 1.0 M596.0 241.5l1.4 0.1 M511.9 242.6l1.6 0.5 M183.9 266.5l-1.2 1.5 M415.5 247.1l-1.8 0.3 M399.3 282.9l-0.1 1.7 M529.6 244.2l0.6 1.1 M566.5 261.6l1.1 1.2 M577.3 239.3l-2.0 0.6 M313.2 246.5l-1.1 0.9 M518.8 267.9l-0.3 1.5 M398.5 271.4l2.1 0.2 M458.1 260.4l0.7 1.6 M562.9 257.0l0.5 1.7 M274.3 273.0l-1.0 1.9 M153.8 289.2l-0.2 1.2 M488.6 244.1l2.2 0.6 M140.7 283.8l1.5 0.4 M512.3 247.4l0.1 1.3 M155.0 297.5l-1.7 0.8 M275.4 298.8l-1.3 1.9 M150.5 309.3l0.1 1.9 M159.5 276.8l0.3 2.3 M266.0 261.4l-2.1 0.7 M615.4 251.5l-2.1 0.9 M368.2 260.5l0.1 1.9 M420.8 245.9l1.1 1.3 M214.0 255.3l0.7 1.2 M388.3 258.9l2.2 0.8 M183.7 256.7l2.0 0.4 M204.8 248.5l-0.9 1.1 M554.5 260.1l-1.6 0.7 M271.5 249.0l0.6 1.3 M498.4 242.7l-0.8 1.0 M406.3 264.7l-1.2 1.0 M160.8 273.8l-1.5 0.3 M275.2 275.7l-0.6 1.4 M403.6 267.5l1.0 1.2 M646.5 257.2l1.1 0.6 M189.8 251.9l-0.9 1.0 M239.2 267.0l1.3 0.0 M221.8 258.9l-1.6 0.9 M446.6 261.5l-0.5 1.1 M135.0 257.8l-0.5 1.9 M155.9 304.8l1.3 1.9 M319.4 249.0l1.1 1.5 M631.4 250.6l-0.0 1.5 M279.8 265.3l-1.7 1.5 M227.5 243.6l-1.4 1.5 M279.2 241.7l0.5 2.3 M155.7 287.7l1.3 1.4 M147.4 293.1l0.8 1.1 M614.9 247.6l-1.8 1.1 M302.9 248.8l0.9 1.4 M419.6 262.7l0.9 0.9 M301.3 269.5l-2.1 0.6 M418.0 243.4l0.9 0.9 M526.6 243.6l-0.8 1.0 M550.6 243.5l-0.8 1.3 M233.4 268.5l-0.3 1.3 M143.9 243.3l1.6 1.0 M572.5 264.5l-0.4 1.2 M304.2 251.2l-0.3 1.2 M321.7 256.1l-2.1 0.9 M487.3 257.8l-1.2 1.3 M620.5 260.5l-0.3 1.3 M646.5 261.8l0.5 2.2 M168.2 271.3l1.0 1.2 M267.1 288.4l-1.2 1.0 M380.4 284.2l1.0 2.2 M372.3 259.3l2.0 0.7 M585.0 255.0l-1.3 0.8 M305.4 271.4l1.8 1.0 M581.9 248.7l-1.6 0.0 M145.7 243.4l2.3 0.1 M505.5 301.1l1.5 0.2 M648.2 258.7l1.7 0.7 M236.2 243.7l-1.8 1.4 M418.5 258.7l2.1 0.0 M186.5 261.7l-0.1 1.7 M178.8 264.7l-1.0 1.4 M301.5 253.1l1.9 0.6 M391.2 302.6l1.9 0.2 M373.5 269.7l0.5 1.7 M301.2 255.5l1.3 1.6 M612.6 277.1l0.0 2.0 M494.8 238.1l0.9 1.2 M607.2 259.3l1.9 1.0 M149.9 279.9l1.1 2.1 M402.4 256.9l1.8 0.5 M254.6 279.6l-0.8 1.0 M260.8 279.9l1.9 0.3 M247.2 259.8l-2.1 0.0 M382.5 272.3l-2.0 0.6 M542.5 253.9l1.1 1.0 M630.0 273.0l1.8 1.2 M133.2 248.2l0.3 2.1 M302.1 245.3l-1.3 0.5 M484.8 263.5l-1.2 1.6 M296.7 246.4l0.2 1.9 M276.2 262.2l-0.1 1.5 M460.7 254.5l2.2 0.3 M427.6 261.5l1.0 1.1 M169.3 276.1l-0.9 1.4 M314.9 248.9l-0.2 1.8 M275.4 298.4l-1.2 0.7 M393.3 302.4l-1.5 1.6 M632.9 259.7l1.7 0.4 M224.1 261.6l-1.4 1.0 M374.1 238.2l-0.1 1.3 M378.3 245.6l-0.4 1.2 M251.9 264.4l-1.7 1.0 M158.3 253.0l1.5 1.3 M616.8 282.9l0.9 1.0 M502.2 249.0l1.6 0.9 M356.1 243.3l-0.2 1.6 M148.9 286.1l0.5 2.2 M182.3 268.2l-1.1 2.1 M611.9 259.7l-1.7 1.5 M241.8 254.5l-0.8 1.7 M576.3 244.8l0.9 1.9 M281.3 263.6l1.1 0.9 M159.3 284.8l0.9 0.8 M520.0 277.2l-2.2 0.3 M471.6 245.9l-2.1 0.4 M578.8 262.6l1.2 0.8 M626.1 271.9l-0.5 1.4 M566.6 250.1l0.2 1.5 M327.5 247.2l1.9 0.0 M630.6 255.2l0.4 1.2 M378.3 285.4l1.8 0.1 M469.7 248.5l-1.2 0.9 M240.7 265.7l-1.4 0.5 M173.5 278.7l-0.4 1.6 M633.5 292.5l-0.8 1.8 M289.4 254.2l-0.7 2.1 M143.0 243.6l-1.4 0.1 M388.7 249.1l-0.2 1.2 M501.0 295.3l1.0 0.9 M214.8 252.0l-1.8 1.1 M381.0 288.4l0.7 1.6 M159.6 256.6l1.2 0.5 M220.9 248.0l0.4 1.6 M197.1 253.2l1.4 0.5 M603.2 270.5l-0.5 1.5 M648.1 246.1l0.7 1.2 M525.9 253.3l-2.0 1.4 M511.6 291.6l1.4 1.4 M370.0 260.4l-1.7 1.4 M598.3 270.3l-1.1 1.2 M384.7 266.2l-0.7 1.3 M321.4 262.2l-0.8 1.1 M480.6 245.7l-1.9 0.0 M546.5 248.8l-0.3 2.1 M584.6 262.1l1.0 0.7 M394.2 302.4l-1.8 0.3 M502.5 255.4l-1.2 0.3 M208.6 262.4l-1.5 1.2 M485.2 260.5l-0.3 1.7 M227.9 243.7l-1.0 0.7 M625.4 276.3l2.2 0.6 M308.2 264.7l-2.1 1.0 M511.8 265.7l-2.3 0.3 M387.1 255.6l2.2 0.6 M526.6 246.2l-0.5 2.2 M618.3 241.5l1.5 0.5 M277.5 262.8l-2.4 0.4 M486.4 239.0l-0.3 2.1 M328.8 253.7l1.8 0.2 M229.4 245.2l1.3 0.5 M363.6 242.4l-1.7 1.2 M439.5 247.2l0.9 2.2 M489.4 262.2l-0.8 1.7 M158.6 267.0l1.0 1.6 M137.6 266.2l-0.6 2.1 M352.8 252.8l1.6 1.5 M293.4 273.4l1.0 1.0 M291.8 259.3l-1.0 1.4 M495.7 278.4l2.0 0.3 M637.1 283.3l-0.3 1.4 M402.0 253.7l-0.1 1.6 M503.3 302.2l-1.6 0.7 M352.0 258.6l1.2 0.8 M576.4 259.9l-1.6 0.6 M327.8 244.0l0.3 1.6 M418.1 264.0l1.4 0.5 M524.4 268.0l1.7 0.5 M280.7 241.3l0.5 1.2 M303.3 259.6l0.8 1.5 M148.0 251.5l-1.1 1.7 M248.5 268.2l-0.4 2.1 M511.6 255.1l1.9 1.2 M595.9 268.0l-1.0 1.5 M581.5 250.2l0.6 1.1 M251.4 241.9l-0.3 1.9 M279.2 290.9l1.4 1.4 M378.4 273.0l1.7 1.2 M458.5 244.4l1.4 1.8 M210.5 251.6l0.5 1.3 M225.6 265.5l0.6 1.9 M174.5 262.7l-1.2 0.1 M264.0 253.1l2.1 0.3 M467.1 241.4l0.0 1.5 M597.1 255.5l-2.3 0.8 M623.5 254.3l-0.5 1.4 M155.4 249.3l0.6 1.6 M401.0 249.1l-2.1 0.2 M649.1 269.9l1.5 1.4 M504.8 305.4l-1.4 0.6 M261.0 256.5l0.9 2.2 M594.1 244.3l2.0 0.1 M427.7 259.5l0.5 1.2 M262.1 286.3l1.3 0.5 M389.4 260.1l-1.7 0.0 M383.0 265.9l0.6 2.1 M527.4 238.4l-0.8 1.3 M149.1 283.6l1.2 1.1 M629.3 293.4l1.3 1.3 M333.6 261.0l1.6 1.0 M396.8 245.7l-1.2 0.8" fill="none" stroke="#c8c8c8" stroke-width="0.9"/></g>
<g fill="none" stroke="#282828" stroke-width="1.15">
<path d="M83.0 229.6 C89.2 229.6 108.8 229.7 120.0 229.7 C131.2 229.7 140.8 229.4 150.0 229.4 C159.2 229.4 166.7 229.3 175.0 229.6 C183.3 229.9 190.8 230.7 200.0 231.0 C209.2 231.3 220.8 231.7 230.0 231.4 C239.2 231.1 246.7 229.9 255.0 229.2 C263.3 228.5 272.5 227.4 280.0 227.0 C287.5 226.6 293.3 226.1 300.0 226.5 C306.7 226.9 314.2 228.8 320.0 229.4 C325.8 230.0 328.3 230.6 335.0 230.2 C341.7 229.8 353.3 227.9 360.0 227.0 C366.7 226.1 369.2 225.2 375.0 224.9 C380.8 224.6 387.5 225.3 395.0 225.4 C402.5 225.5 409.2 225.3 420.0 225.6 C430.8 225.9 448.3 227.4 460.0 227.4 C471.7 227.4 478.3 225.5 490.0 225.3 C501.7 225.1 518.3 226.3 530.0 226.4 C541.7 226.5 550.0 226.1 560.0 226.0 C570.0 225.9 580.0 225.4 590.0 225.9 C600.0 226.4 610.0 228.3 620.0 229.0 C630.0 229.7 639.2 230.2 650.0 230.1 C660.8 230.0 679.2 228.5 685.0 228.2"/>
<path d="M131.0 240.5 C135.8 240.6 148.5 240.7 160.0 241.0 C171.5 241.3 188.3 242.0 200.0 242.2 C211.7 242.4 220.8 242.4 230.0 242.0 C239.2 241.6 245.0 240.8 255.0 240.0 C265.0 239.2 280.8 237.6 290.0 237.3 C299.2 237.0 303.3 237.7 310.0 238.4 C316.7 239.1 323.3 241.0 330.0 241.3 C336.7 241.7 342.5 241.3 350.0 240.5 C357.5 239.7 367.5 237.3 375.0 236.6 C382.5 235.8 387.5 236.0 395.0 236.0 C402.5 236.0 409.2 236.1 420.0 236.6 C430.8 237.1 446.7 239.2 460.0 239.1 C473.3 239.0 488.3 236.4 500.0 236.1 C511.7 235.8 520.0 237.1 530.0 237.3 C540.0 237.5 550.0 237.4 560.0 237.5 C570.0 237.6 580.0 237.2 590.0 237.6 C600.0 238.0 610.0 239.6 620.0 240.2 C630.0 240.8 644.4 241.2 650.0 241.4 C655.6 241.6 652.9 241.6 653.5 241.6"/>
<path d="M118 229.4 C124 229.9 128.8 232.2 130.2 236.5 L130.8 241 C131.8 248 133.4 255 133.5 262 L135 310.3"/>
<path d="M662.7 229.9 C659 230.8 655.5 232.5 654.4 235.5 C653.7 237.5 653.6 239.5 653.4 241.5 C652.5 248 651.4 255 651.3 262 L648.5 310.3"/>
<path d="M83 310.2 H648.5"/>
<path d="M160.16 310.30A53.80 48.80 0 0 1 267.24 310.30M167.31 310.30A46.67 43.60 0 0 1 260.09 310.30M169.26 310.30A44.75 40.70 0 0 1 258.14 310.30M278.46 310.30A53.80 48.80 0 0 1 385.54 310.30M285.61 310.30A46.67 43.60 0 0 1 378.39 310.30M287.56 310.30A44.75 40.70 0 0 1 376.44 310.30M396.76 310.30A53.80 48.80 0 0 1 503.84 310.30M403.91 310.30A46.67 43.60 0 0 1 496.69 310.30M405.86 310.30A44.75 40.70 0 0 1 494.74 310.30M515.06 310.30A53.80 48.80 0 0 1 622.14 310.30M522.21 310.30A46.67 43.60 0 0 1 614.99 310.30M524.16 310.30A44.75 40.70 0 0 1 613.04 310.30" stroke-width="1.05"/>
<g stroke-width="0.9"><circle cx="213.7" cy="278.6" r="3.6"/><circle cx="332.0" cy="278.6" r="3.6"/><circle cx="450.3" cy="278.6" r="3.6"/><circle cx="568.6" cy="278.6" r="3.6"/></g>
<path d="M155.2 310.3v-3.2M273.2 310.3v-3.2M391.5 310.3v-3.2M509.8 310.3v-3.2M627.6 310.3v-3.2" stroke-width="1"/>
<path d="M114.0 229.3L111.0 218.3M117.0 229.3L115.0 213.3M119.0 229.3L119.0 219.3M121.0 229.3L125.0 217.3M175.0 230.2L173.0 221.2M178.0 230.2L177.0 216.2M181.0 230.2L182.0 218.2M192.0 230.3L189.0 220.3M195.0 230.3L193.0 214.3M197.0 230.3L197.0 219.3M199.0 230.3L204.0 219.3M228.0 229.5L226.0 222.5M231.0 229.5L230.0 215.5M233.0 229.5L235.0 219.5M272.0 227.2L269.0 219.2M274.0 227.2L273.0 213.2M276.0 227.2L278.0 216.2M295.0 226.0L293.0 215.0M298.0 226.0L297.0 210.0M300.0 226.0L301.0 216.0M302.0 226.0L307.0 214.0M336.0 229.8L334.0 222.8M338.0 229.8L337.0 217.8M340.0 229.8L342.0 219.8M372.4 224.5L369.8 213.5M376.5 224.5L374.1 209.5M378.6 224.5L378.6 215.5M381.3 224.5L384.7 214.5M402.5 225.6L400.0 215.1M406.8 225.6L404.8 211.1M409.4 225.6L409.6 217.1M411.5 225.6L415.0 215.6M421.8 225.5L419.6 219.5M424.5 225.5L423.5 211.5M426.3 225.5L428.2 214.0M473.5 227.5L471.5 217.5M476.5 227.5L475.5 212.5M478.5 227.5L480.5 218.5M480.5 227.5L486.5 216.5M508.5 225.8L505.5 214.8M511.5 225.8L509.5 209.8M513.5 225.8L514.5 216.8M515.5 225.8L520.5 214.8M528.7 225.8L526.7 218.8M530.7 225.8L530.7 212.8M532.7 225.8L535.2 214.8M576.4 225.4L573.4 214.4M579.4 225.4L577.4 209.4M581.4 225.4L582.4 216.4M583.4 225.4L588.9 214.4M607.6 227.0L604.6 217.0M610.6 227.0L608.6 212.0M612.6 227.0L613.1 218.0M614.6 227.0L618.6 217.0M626.4 227.8L624.4 220.8M628.4 227.8L628.4 214.8M630.4 227.8L633.0 216.8M657.5 229.5L655.5 222.5M659.5 229.5L659.5 216.5M661.5 229.5L664.0 219.5" stroke-width="0.8"/>
</g>
<rect x="212.2" y="270.2" width="3" height="1.6" fill="#282828" stroke="none"/><rect x="330.5" y="270.2" width="3" height="1.6" fill="#282828" stroke="none"/><rect x="448.8" y="270.2" width="3" height="1.6" fill="#282828" stroke="none"/><rect x="567.1" y="270.2" width="3" height="1.6" fill="#282828" stroke="none"/>
<!-- leaders -->
<g fill="none" stroke="#282828" stroke-width="0.85">
<path d="M249.5 154.5 H241.5 L196.6 221.5"/>
<path d="M280 191 H271 L231 256.5"/>
<path d="M592.4 173.1 H583 L455.5 275"/>
</g>
<path d="M196.6 221.5L199.7 213.7L202.7 215.7z" fill="#282828" stroke="none"/>
<path d="M455.5 275.0L460.8 268.5L463.0 271.3z" fill="#282828" stroke="none"/>
<circle cx="231" cy="256.5" r="1.9" fill="#282828"/>
<!-- dimensions -->
<g fill="none" stroke="#282828" stroke-width="1">
<path d="M83 229.5 H112"/>
<path d="M88.3 230 V257 M88.3 283 V310"/>
<path d="M154.5 314 V339 M273.3 314 V339"/>
<path d="M154.5 334.7 H201.5 M225.8 334.7 H273.3"/>
<path d="M136.6 314 V371.5 M648.5 314 V371.5"/>
<path d="M136.6 366.2 H317.5 M431.8 366.2 H648.5"/>
</g>
<path d="M88.3 230.0L89.8 239.0L86.8 239.0z" fill="#282828" stroke="none"/>
<path d="M88.3 310.2L86.8 301.2L89.8 301.2z" fill="#282828" stroke="none"/>
<path d="M154.5 334.7L163.5 333.2L163.5 336.2z" fill="#282828" stroke="none"/>
<path d="M273.3 334.7L264.3 336.2L264.3 333.2z" fill="#282828" stroke="none"/>
<path d="M136.6 366.2L145.6 364.7L145.6 367.7z" fill="#282828" stroke="none"/>
<path d="M648.5 366.2L639.5 367.7L639.5 364.7z" fill="#282828" stroke="none"/>
<g fill="#1a1a1a" stroke="#1a1a1a" stroke-width="0.2" font-size="11.1">
<text x="251.8" y="158.3" textLength="176" lengthAdjust="spacingAndGlyphs">ESTABLISH VEGETATIVE COVER</text>
<text x="281.7" y="195.3" textLength="94.3" lengthAdjust="spacingAndGlyphs">NATIVE BACKFILL</text>
<text x="594.6" y="177.5" textLength="124" lengthAdjust="spacingAndGlyphs">PRESSURE PIPE (TYP.)</text>
<text x="594.6" y="190.6">IF REQUIRED</text>
<text x="88.4" y="269.6" text-anchor="middle" textLength="62.5" lengthAdjust="spacingAndGlyphs">DEPTH PER</text>
<text x="88.4" y="280.3" text-anchor="middle">DESIGN</text>
<text x="214.2" y="337.9" text-anchor="middle" font-size="10.8">34"</text>
<text x="375" y="370.6" text-anchor="middle" textLength="107.5" lengthAdjust="spacingAndGlyphs">WIDTH PER DESIGN</text>
<text x="380.2" y="428.5" text-anchor="middle" font-size="11" textLength="235" lengthAdjust="spacingAndGlyphs">*SIZE OF SYSTEM DETERMINED BY DESIGN</text>
</g>
<!-- title block -->
<g fill="none" stroke="#4a4a4a" stroke-width="1.2">
<path d="M335.6 582 V490.6 H759.5"/>
<rect x="339.2" y="494.2" width="183.5" height="45.9"/>
<rect x="339.2" y="543.5" width="183.5" height="35.2"/>
<rect x="526.2" y="494.2" width="180.4" height="45.9"/>
<rect x="526.2" y="543.5" width="180.4" height="35.2"/>
<rect x="709.8" y="494.2" width="46.2" height="84.5"/>
<path d="M709.8 515.3 H756 M709.8 536.3 H756 M709.8 557.3 H756"/>
</g>
<!-- logo -->
<defs><linearGradient id="lg" x1="0" y1="1" x2="1" y2="0"><stop offset="0" stop-color="#3b76b6"/><stop offset="0.6" stop-color="#4d88c6"/><stop offset="1" stop-color="#b9d3ea"/></linearGradient></defs>
<g fill="url(#lg)" stroke="none">
<path d="M386.75 511.88 L386.81 510.90 L386.93 509.94 L387.12 509.00 L387.37 508.07 L387.69 507.15 L388.07 506.26 L388.53 505.40 L389.06 504.56 L389.66 503.75 L390.33 502.97 L391.09 502.23 L391.93 501.52 L392.85 500.86 L393.85 500.25 L394.95 499.69 L396.13 499.18 L397.41 498.73 L398.78 498.34 L400.24 498.02 L401.79 497.77 L403.45 497.60 L405.19 497.50 L407.04 497.48 L408.99 497.55 L409.01 497.25 L407.05 497.11 L405.19 497.05 L403.41 497.07 L401.73 497.18 L400.13 497.36 L398.61 497.61 L397.18 497.94 L395.83 498.33 L394.56 498.79 L393.37 499.32 L392.26 499.91 L391.22 500.55 L390.27 501.25 L389.38 502.01 L388.58 502.81 L387.85 503.67 L387.19 504.56 L386.61 505.50 L386.11 506.47 L385.67 507.47 L385.31 508.50 L385.02 509.56 L384.80 510.63 L384.65 511.72Z"/><path d="M390.85 513.69 L390.91 512.73 L391.03 511.78 L391.22 510.85 L391.47 509.92 L391.78 509.02 L392.17 508.13 L392.62 507.26 L393.15 506.42 L393.75 505.61 L394.43 504.84 L395.19 504.10 L396.03 503.40 L396.97 502.75 L397.98 502.15 L399.09 501.60 L400.30 501.12 L401.60 500.69 L402.99 500.34 L404.48 500.06 L406.08 499.86 L407.77 499.75 L409.57 499.72 L411.47 499.79 L413.48 499.95 L413.52 499.65 L411.50 499.41 L409.59 499.27 L407.76 499.22 L406.04 499.27 L404.40 499.39 L402.85 499.61 L401.39 499.90 L400.01 500.26 L398.72 500.70 L397.51 501.21 L396.39 501.79 L395.34 502.42 L394.37 503.12 L393.48 503.87 L392.67 504.68 L391.94 505.53 L391.29 506.43 L390.71 507.36 L390.20 508.33 L389.77 509.33 L389.41 510.35 L389.12 511.39 L388.90 512.45 L388.75 513.51Z"/><path d="M394.00 514.99 L394.06 514.14 L394.16 513.30 L394.32 512.45 L394.52 511.61 L394.77 510.77 L395.07 509.94 L395.42 509.12 L395.81 508.33 L396.26 507.55 L396.75 506.80 L397.29 506.08 L397.88 505.39 L398.52 504.74 L399.22 504.13 L399.96 503.57 L400.75 503.05 L401.59 502.58 L402.49 502.18 L403.44 501.83 L404.44 501.54 L405.50 501.33 L406.61 501.19 L407.77 501.13 L408.99 501.15 L409.01 500.85 L407.78 500.76 L406.58 500.75 L405.43 500.82 L404.33 500.97 L403.26 501.20 L402.24 501.50 L401.26 501.86 L400.33 502.29 L399.45 502.78 L398.61 503.33 L397.81 503.93 L397.07 504.58 L396.37 505.28 L395.72 506.02 L395.12 506.79 L394.57 507.60 L394.08 508.44 L393.63 509.30 L393.23 510.19 L392.88 511.09 L392.58 512.01 L392.34 512.94 L392.14 513.88 L392.00 514.81Z"/>
</g>
<text x="404" y="516" font-size="16" font-weight="bold" fill="#2e2e2e" textLength="70" lengthAdjust="spacingAndGlyphs">Infiltrator</text>
<text x="474.5" y="505" font-size="3" fill="#555">TM</text>
<text x="404" y="526" font-size="8.2" fill="#505050" textLength="71.8" lengthAdjust="spacingAndGlyphs">Water Technologies</text>
<text x="433.7" y="535" font-size="6" fill="#555">Part of</text>
<text x="451.5" y="537.6" font-size="9" font-weight="bold" fill="#8c8a4a" font-style="italic">//</text>
<text x="458" y="537.6" font-size="9" font-weight="bold" fill="#222" textLength="17.5" lengthAdjust="spacingAndGlyphs">ADS</text>
<text x="615.5" y="525.1" font-size="20.5" font-weight="bold" fill="#4a8cc4" text-anchor="middle" textLength="71.3" lengthAdjust="spacingAndGlyphs">Quick4</text>
<text x="653" y="511" font-size="3" fill="#4a8cc4">®</text>
<g fill="#333" text-anchor="middle">
<text x="430.6" y="553" font-size="7.6" textLength="156" lengthAdjust="spacingAndGlyphs">INFILTRATOR WATER TECHNOLOGIES, LLC</text>
<text x="431" y="560.2" font-size="5" textLength="118.6" lengthAdjust="spacingAndGlyphs">4 BUSINESS PARK RD, OLD SAYBROOK, CT 06475</text>
<text x="430.8" y="567.1" font-size="5" textLength="78.3" lengthAdjust="spacingAndGlyphs">WWW.INFILTRATORWATER.COM</text>
<text x="431" y="574.2" font-size="5" textLength="155.3" lengthAdjust="spacingAndGlyphs">PHONE: (800) 221-4436 / EMAIL: INFO@INFILTRATORWATER.COM</text>
</g>
<g fill="#585858" text-anchor="middle" font-size="9.6">
<text x="616.2" y="553.6" textLength="140.4" lengthAdjust="spacingAndGlyphs">QUICK4 STANDARD CHAMBER</text>
<text x="616.3" y="564.8" textLength="96" lengthAdjust="spacingAndGlyphs">TYPICAL BED DETAIL</text>
<text x="615.9" y="575.7" textLength="68.3" lengthAdjust="spacingAndGlyphs">SECTION VIEW</text>
</g>
<g fill="#333" text-anchor="middle">
<text x="732.2" y="499.6" font-size="5" fill="#555">PART NO</text>
<text x="732.8" y="511.8" font-size="9.6">P/N</text>
<text x="732.4" y="520.6" font-size="5" fill="#555">DATE</text>
<text x="732.8" y="531.2" font-size="7.4">04/21/2025</text>
<text x="732.8" y="542.2" font-size="5" fill="#555">SCALE</text>
<text x="732.8" y="554.6" font-size="9.8">NTS</text>
<text x="732.4" y="563" font-size="5" fill="#555">SHEET NO</text>
<text x="732.3" y="575.4" font-size="9.6">01 of 01</text>
</g>
</svg>
</body></html>
